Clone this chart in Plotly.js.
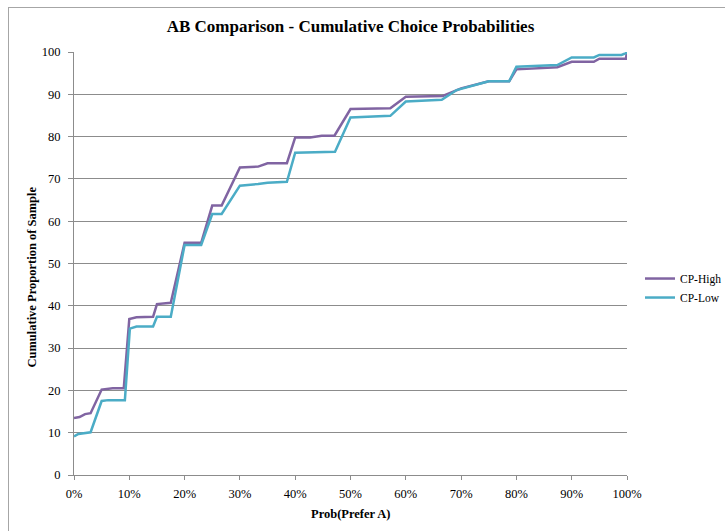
<!DOCTYPE html>
<html>
<head>
<meta charset="utf-8">
<script src="https://cdn.plot.ly/plotly-3.0.1.min.js"></script>
<style>
  html, body { margin: 0; padding: 0; background: #ffffff; }
  #wrap { position: relative; width: 725px; height: 531px; overflow: hidden; }
  #chart { width: 760px; height: 531px; }
  #frame {
    position: absolute; left: 8px; top: 7px; width: 760px; height: 560px;
    border: 1px solid #a6a6a6; pointer-events: none; box-sizing: border-box;
  }
</style>
</head>
<body>
<div id="wrap">
  <div id="chart"></div>
  <div id="frame"></div>
</div>
<script>
// Cumulative proportion of the sample (%) against Prob(Prefer A) (%)
const highProb = [0, 1, 2, 3, 5, 7, 9, 10, 11.3, 14.3, 15, 17.5, 20, 23, 25, 26.7, 30, 33.3, 35, 38.5,
  40, 42.7, 44.8, 47.1, 50, 57.2, 60, 66.7, 70, 75, 78.7, 80, 87.4, 90, 94, 95, 99.8, 100];
const highCum = [13.5, 13.7, 14.4, 14.6, 20.2, 20.5, 20.5, 36.9, 37.3, 37.4, 40.4, 40.7, 54.9, 54.9, 63.7, 63.7, 72.7, 72.9, 73.7, 73.7,
  79.8, 79.8, 80.2, 80.2, 86.5, 86.7, 89.4, 89.6, 91.4, 93.1, 93.1, 95.9, 96.4, 97.7, 97.7, 98.4, 98.4, 100];

const lowProb = [0, 0.8, 3, 5, 6.2, 9.2, 10.1, 11.3, 14.3, 15, 17.5, 20, 23, 25, 26.7, 30, 33.3, 35, 38.5,
  40, 47.2, 50, 57.2, 60, 66.5, 69.2, 75, 78.7, 80, 87.4, 90, 94, 95, 99, 99.8, 100];
const lowCum = [9.1, 9.7, 10.1, 17.5, 17.7, 17.7, 34.6, 35.1, 35.1, 37.4, 37.4, 54.4, 54.4, 61.7, 61.7, 68.4, 68.8, 69.1, 69.3,
  76.2, 76.4, 84.5, 84.9, 88.3, 88.7, 91.0, 93.1, 93.1, 96.5, 96.9, 98.7, 98.7, 99.3, 99.3, 99.7, 100];

const seriesNames = ['CP-High', 'CP-Low'];
const seriesColors = ['#8064a2', '#4bacc6'];

const serif = '"Liberation Serif", "Times New Roman", serif';
const gridColor = '#8c8c8c';

const traces = [
  { x: highProb, y: highCum, name: seriesNames[0], type: 'scatter', mode: 'lines',
    line: { color: seriesColors[0], width: 2.5 } },
  { x: lowProb, y: lowCum, name: seriesNames[1], type: 'scatter', mode: 'lines',
    line: { color: seriesColors[1], width: 2.5 } }
];

const layout = {
  width: 760, height: 531,
  margin: { l: 74, r: 133, t: 52, b: 56, pad: 0 },
  paper_bgcolor: '#ffffff', plot_bgcolor: '#ffffff',
  font: { family: serif, size: 12, color: '#000000' },
  title: {
    text: '<b>AB Comparison - Cumulative Choice Probabilities</b>',
    font: { family: serif, size: 17, color: '#000000' },
    xref: 'paper', x: 0.5, xanchor: 'center', y: 0.951, yanchor: 'middle'
  },
  xaxis: {
    range: [0, 100], dtick: 10, tick0: 0, ticksuffix: '%',
    showgrid: false, zeroline: false,
    showline: true, linecolor: gridColor, linewidth: 1,
    ticks: 'outside', ticklen: 4, tickcolor: gridColor, ticklabelstandoff: 3,
    tickfont: { family: serif, size: 12.5, color: '#000000' },
    fixedrange: true
  },
  yaxis: {
    range: [0, 100], dtick: 10, tick0: 0,
    showgrid: true, gridcolor: gridColor, gridwidth: 1, zeroline: false,
    showline: true, linecolor: gridColor, linewidth: 1,
    ticks: 'outside', ticklen: 5, tickcolor: gridColor, ticklabelstandoff: 5,
    tickfont: { family: serif, size: 12.5, color: '#000000' },
    fixedrange: true
  },
  annotations: [
    { text: '<b>Prob(Prefer A)</b>', xref: 'paper', yref: 'paper', x: 0.5, y: -0.092,
      xanchor: 'center', yanchor: 'middle', showarrow: false,
      font: { family: serif, size: 12.5, color: '#000000' } },
    { text: '<b>Cumulative Proportion of Sample</b>', xref: 'paper', yref: 'paper', x: -0.076, y: 0.469,
      xanchor: 'center', yanchor: 'middle', textangle: -90, showarrow: false,
      font: { family: serif, size: 12.5, color: '#000000' } }
  ],
  showlegend: true,
  legend: {
    x: 1.0235, xanchor: 'left', y: 0.442, yanchor: 'middle',
    font: { family: serif, size: 11.5, color: '#000000' },
    bgcolor: 'rgba(0,0,0,0)', borderwidth: 0,
    itemwidth: 30, tracegroupgap: 0
  }
};

Plotly.newPlot('chart', traces, layout, { staticPlot: true, displayModeBar: false });
</script>
</body>
</html>
